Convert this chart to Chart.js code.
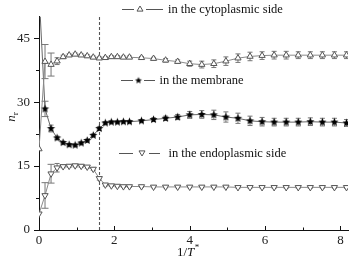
<!DOCTYPE html>
<html>
<head>
<meta charset="utf-8">
<script src="https://cdn.jsdelivr.net/npm/chart.js@4.4.1/dist/chart.umd.min.js"></script>
<style>
  html, body { margin: 0; padding: 0; background: #fff; }
  canvas { display: block; }
</style>
</head>
<body>
<canvas id="grafico" width="353" height="267"></canvas>
<script>
// 1/T* values
var xVals = [0, 0.16, 0.32, 0.48, 0.64, 0.8, 0.96, 1.12, 1.28, 1.44, 1.6, 1.76, 1.92, 2.08, 2.24, 2.4,
             2.72, 3.04, 3.36, 3.68, 4.0, 4.32, 4.64, 4.96, 5.28, 5.6, 5.92, 6.24, 6.56, 6.88, 7.2, 7.52, 7.84, 8.16];

var citoplasma = [19, 39.5, 38.8, 39.6, 40.6, 41.0, 41.2, 41.0, 40.8, 40.5, 40.3, 40.4, 40.6, 40.6, 40.5, 40.5,
                  40.4, 40.2, 39.8, 39.5, 39.0, 38.8, 39.0, 39.6, 40.3, 40.7, 40.9, 41.0, 41.0, 41.0, 41.0, 41.0, 41.0, 41.0];
var citoplasmaErr = [0, 4, 2.7, 0.8, 0.4, 0.3, 0.3, 0.3, 0.3, 0.3, 0.3, 0.3, 0.3, 0.3, 0.3, 0.3,
                     0.3, 0.3, 0.4, 0.4, 0.6, 0.8, 0.9, 1.0, 1.0, 1.0, 0.9, 0.9, 0.9, 0.8, 0.8, 0.8, 0.8, 0.8];

var membrana = [56, 28.4, 23.8, 21.6, 20.5, 20.0, 19.9, 20.4, 21.0, 22.2, 23.8, 25.1, 25.3, 25.3, 25.4, 25.4,
                25.6, 25.9, 26.2, 26.5, 27.0, 27.1, 27.0, 26.5, 26.2, 25.6, 25.4, 25.3, 25.3, 25.3, 25.4, 25.3, 25.3, 25.1];
var membranaErr = [0, 1.8, 0.8, 0.4, 0.3, 0.3, 0.3, 0.3, 0.3, 0.3, 0.4, 0.3, 0.3, 0.3, 0.3, 0.3,
                   0.3, 0.4, 0.5, 0.6, 0.8, 0.9, 1.1, 1.2, 1.2, 1.1, 1.0, 0.9, 0.9, 0.9, 0.9, 0.9, 0.9, 0.8];

var endoplasma = [3.8, 8.1, 13.2, 14.6, 14.9, 15.0, 15.1, 15.0, 14.8, 14.3, 12.1, 10.6, 10.4, 10.3, 10.2, 10.2,
                  10.2, 10.1, 10.1, 10.1, 10.1, 10.1, 10.1, 10.1, 10.0, 10.0, 10.0, 10.0, 10.0, 10.0, 10.0, 10.0, 10.0, 10.0];
var endoplasmaErr = [0, 3, 2.2, 1.0, 0.3, 0.3, 0.3, 0.3, 0.3, 0.3, 0.4, 0.3, 0.2, 0.2, 0.2, 0.2,
                     0.2, 0.2, 0.2, 0.2, 0.2, 0.2, 0.2, 0.2, 0.2, 0.2, 0.2, 0.2, 0.2, 0.2, 0.2, 0.2, 0.2, 0.2];

var etiquetas = ['in the cytoplasmic side', 'in the membrane', 'in the endoplasmic side'];
var xTicks = [0, 2, 4, 6, 8];
var xMinor = [1, 3, 5, 7];
var yTicks = [0, 15, 30, 45];
var yMinor = [7.5, 22.5, 37.5];
var lineaCorte = 1.6;

var FUENTE = "'Liberation Serif', 'DejaVu Serif', serif";

function hacerEstrella(r, color){
  var c = document.createElement('canvas');
  var s = Math.ceil(r * 2 + 2);
  c.width = s; c.height = s;
  var g = c.getContext('2d');
  g.translate(s / 2, s / 2);
  g.beginPath();
  for (var k = 0; k < 10; k++){
    var rr = (k % 2) ? r * 0.45 : r;
    var a = -Math.PI / 2 + k * Math.PI / 5;
    g.lineTo(rr * Math.cos(a), rr * Math.sin(a));
  }
  g.closePath();
  g.fillStyle = color;
  g.fill();
  return c;
}
var estrella = hacerEstrella(4.3, '#000');
var estrellaChica = hacerEstrella(3.6, '#000');

function puntos(arr){
  var out = [];
  for (var i = 0; i < xVals.length; i++) out.push({x: xVals[i], y: arr[i]});
  return out;
}

var errores = [citoplasmaErr, membranaErr, endoplasmaErr];

var pluginErrores = {
  id: 'errores',
  beforeDatasetsDraw: function(chart){
    var ctx = chart.ctx, xs = chart.scales.x, ys = chart.scales.y, a = chart.chartArea;
    ctx.save();
    ctx.beginPath();
    ctx.rect(a.left, a.top, a.right - a.left, a.bottom - a.top);
    ctx.clip();
    // dashed line
    ctx.strokeStyle = '#555';
    ctx.lineWidth = 1.1;
    ctx.setLineDash([3, 2]);
    ctx.beginPath();
    var xd = Math.round(xs.getPixelForValue(lineaCorte)) + 0.5;
    ctx.moveTo(xd, ys.getPixelForValue(0));
    ctx.lineTo(xd, a.top);
    ctx.stroke();
    ctx.setLineDash([]);
    chart.data.datasets.forEach(function(ds, d){
      var err = errores[d];
      ctx.strokeStyle = '#777';
      ctx.lineWidth = 1;
      for (var i = 0; i < xVals.length; i++){
        if (!err[i]) continue;
        var v = ds.data[i].y;
        var px = xs.getPixelForValue(xVals[i]);
        var y1 = ys.getPixelForValue(v + err[i]);
        var y2 = ys.getPixelForValue(v - err[i]);
        var cap = err[i] > 1.5 ? 3.5 : 2.5;
        ctx.beginPath();
        ctx.moveTo(px, y1); ctx.lineTo(px, y2);
        ctx.moveTo(px - cap, y1); ctx.lineTo(px + cap, y1);
        ctx.moveTo(px - cap, y2); ctx.lineTo(px + cap, y2);
        ctx.stroke();
      }
    });
    ctx.restore();
  },
  afterDraw: function(chart){
    var ctx = chart.ctx, xs = chart.scales.x, ys = chart.scales.y, a = chart.chartArea;
    ctx.save();
    ctx.strokeStyle = '#111';
    ctx.lineWidth = 1;
    ctx.beginPath();
    yTicks.forEach(function(v){ var p = Math.round(ys.getPixelForValue(v)) + 0.5; ctx.moveTo(a.left - 5, p); ctx.lineTo(a.left, p); });
    yMinor.forEach(function(v){ var p = Math.round(ys.getPixelForValue(v)) + 0.5; ctx.moveTo(a.left - 3, p); ctx.lineTo(a.left, p); });
    xTicks.forEach(function(v){ var p = Math.round(xs.getPixelForValue(v)) + 0.5; ctx.moveTo(p, a.bottom); ctx.lineTo(p, a.bottom - 4); });
    xMinor.forEach(function(v){ var p = Math.round(xs.getPixelForValue(v)) + 0.5; ctx.moveTo(p, a.bottom); ctx.lineTo(p, a.bottom - 2.5); });
    ctx.stroke();

    // axis titles
    ctx.fillStyle = '#111';
    ctx.textBaseline = 'alphabetic';
    var t1 = '1/', t2 = 'T', t3 = '*';
    ctx.font = '13px ' + FUENTE;
    var w1 = ctx.measureText(t1).width;
    ctx.font = 'italic 13px ' + FUENTE;
    var w2 = ctx.measureText(t2).width;
    ctx.font = '9px ' + FUENTE;
    var w3 = ctx.measureText(t3).width;
    var xc = xs.getPixelForValue(3.95) - (w1 + w2 + w3) / 2;
    var yb = 256;
    ctx.font = '13px ' + FUENTE; ctx.fillText(t1, xc, yb);
    ctx.font = 'italic 13px ' + FUENTE; ctx.fillText(t2, xc + w1, yb);
    ctx.font = '9px ' + FUENTE; ctx.fillText(t3, xc + w1 + w2 + 0.5, yb - 6);

    ctx.save();
    ctx.translate(15, ys.getPixelForValue(26.5));
    ctx.rotate(-Math.PI / 2);
    ctx.font = 'italic 13px ' + FUENTE;
    var wn = ctx.measureText('n').width;
    ctx.font = '9px ' + FUENTE;
    var wr = ctx.measureText('r').width;
    var x0 = -(wn + wr) / 2;
    ctx.font = 'italic 13px ' + FUENTE; ctx.fillText('n', x0, 0);
    ctx.font = '9px ' + FUENTE; ctx.fillText('r', x0 + wn, 3);
    ctx.restore();

    // legends next to the curves
    var leyendas = [
      {y: 9, l1: 122, l2: 134, m: 140, r1: 146, r2: 163, tx: 168, tipo: 'up'},
      {y: 80, l1: 121, l2: 133, m: 138.5, r1: 144, r2: 155, tx: 159.5, tipo: 'star'},
      {y: 153, l1: 119, l2: 133, m: 142, r1: 149, r2: 160, tx: 168.5, tipo: 'down'}
    ];
    leyendas.forEach(function(L, k){
      ctx.strokeStyle = '#555';
      ctx.lineWidth = 1;
      ctx.beginPath();
      ctx.moveTo(L.l1, L.y + 0.5); ctx.lineTo(L.l2, L.y + 0.5);
      ctx.moveTo(L.r1, L.y + 0.5); ctx.lineTo(L.r2, L.y + 0.5);
      ctx.stroke();
      if (L.tipo === 'star'){
        ctx.drawImage(estrellaChica, L.m - estrellaChica.width / 2, L.y - estrellaChica.height / 2 + 0.5);
      } else {
        var r = 3;
        var s = L.tipo === 'up' ? 1 : -1;
        ctx.strokeStyle = '#555';
        ctx.fillStyle = '#fff';
        ctx.beginPath();
        ctx.moveTo(L.m, L.y - s * r);
        ctx.lineTo(L.m + r, L.y + s * r * 0.7);
        ctx.lineTo(L.m - r, L.y + s * r * 0.7);
        ctx.closePath();
        ctx.fill(); ctx.stroke();
      }
      ctx.fillStyle = '#111';
      ctx.font = '12.5px ' + FUENTE;
      ctx.textBaseline = 'middle';
      ctx.fillText(etiquetas[k], L.tx, L.y + 0.5);
    });
    ctx.restore();
  }
};

const ctx = document.getElementById('grafico');
new Chart(ctx, {
  type: 'line',
  data: {
    datasets: [{
      label: etiquetas[0],
      data: puntos(citoplasma),
      borderColor: '#8a8a8a',
      borderWidth: 1,
      pointStyle: 'triangle',
      pointRadius: 3.6,
      pointBorderColor: '#555',
      pointBackgroundColor: '#fff',
      pointBorderWidth: 1,
      tension: 0
    }, {
      label: etiquetas[1],
      data: puntos(membrana),
      borderColor: '#666',
      borderWidth: 1,
      pointStyle: estrella,
      tension: 0
    }, {
      label: etiquetas[2],
      data: puntos(endoplasma),
      borderColor: '#8a8a8a',
      borderWidth: 1,
      pointStyle: 'triangle',
      pointRotation: 180,
      pointRadius: 3.6,
      pointBorderColor: '#555',
      pointBackgroundColor: '#fff',
      pointBorderWidth: 1,
      tension: 0
    }]
  },
  options: {
    responsive: false,
    animation: false,
    devicePixelRatio: 1,
    layout: { padding: { top: 2, right: 4, left: 0, bottom: 0 } },
    plugins: { legend: { display: false }, tooltip: { enabled: false } },
    scales: {
      x: {
        type: 'linear',
        min: 0,
        max: 8.2,
        afterBuildTicks: function(s){ s.ticks = xTicks.map(function(v){ return {value: v}; }); },
        afterFit: function(s){ s.height = 37; },
        grid: { display: false, drawTicks: false },
        border: { display: true, color: '#111', width: 1 },
        ticks: { color: '#222', padding: 3, maxRotation: 0, font: { family: FUENTE, size: 13 } }
      },
      y: {
        min: 0,
        max: 50,
        afterBuildTicks: function(s){ s.ticks = yTicks.map(function(v){ return {value: v}; }); },
        afterFit: function(s){ s.width = 39; },
        grid: { display: false, drawTicks: false },
        border: { display: true, color: '#111', width: 1 },
        ticks: { color: '#222', padding: 9, font: { family: FUENTE, size: 13 } }
      }
    }
  },
  plugins: [pluginErrores]
});
</script>
</body>
</html>
